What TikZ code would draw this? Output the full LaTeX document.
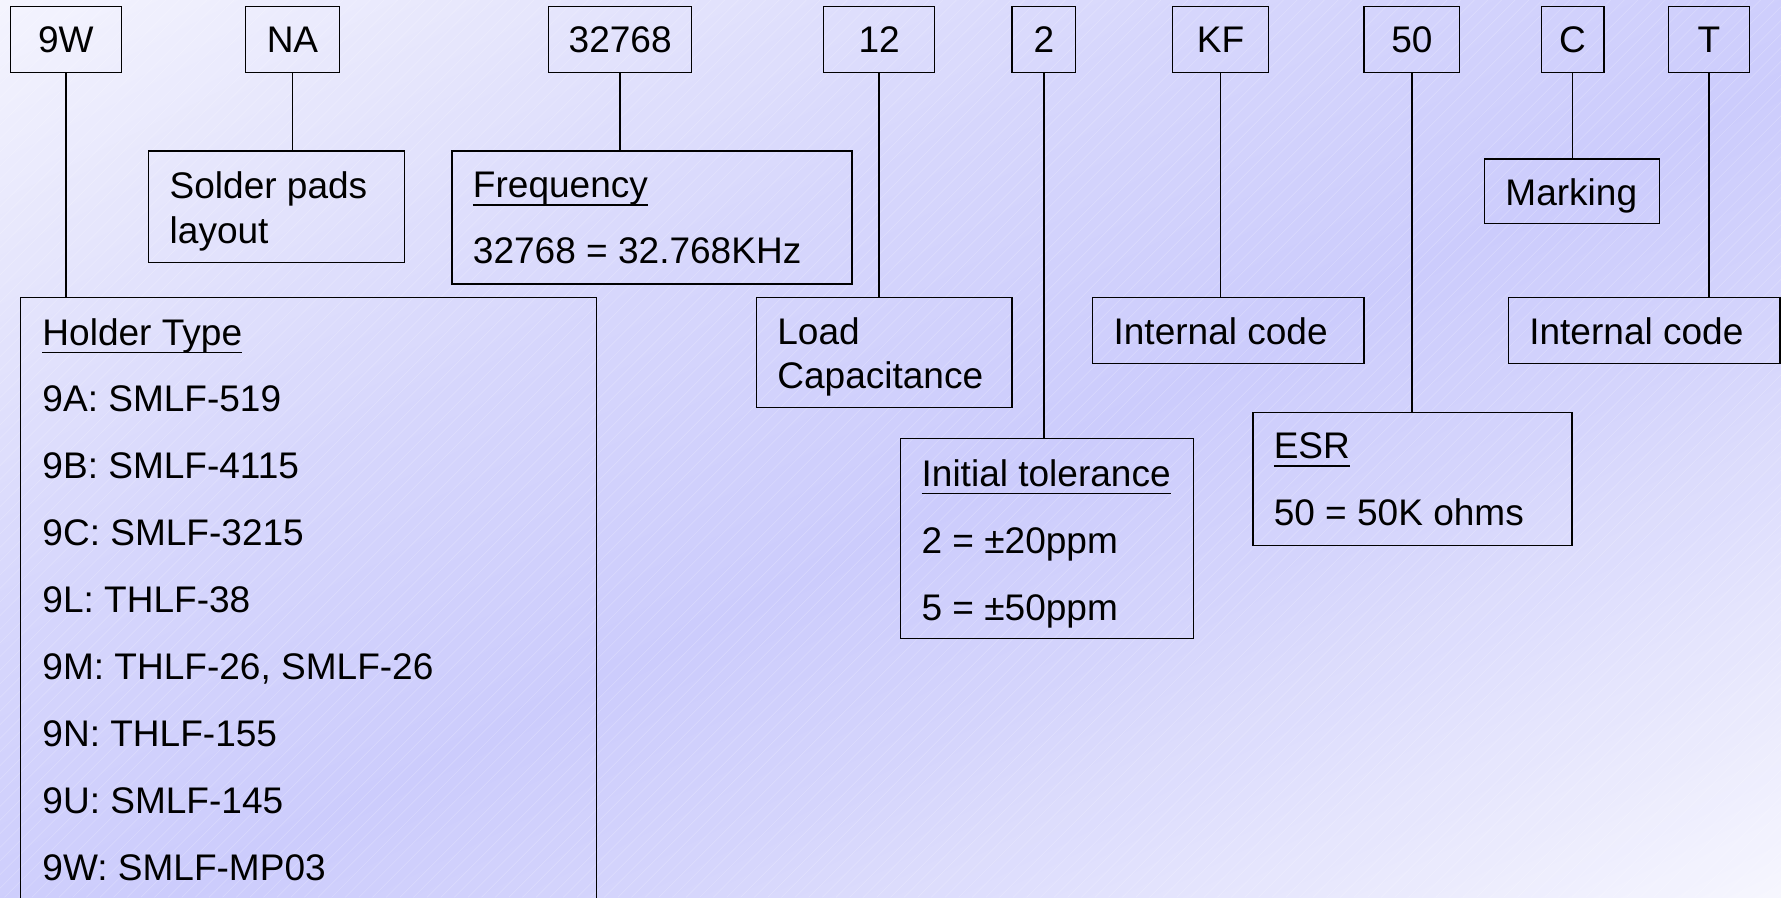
\documentclass[tikz,border=0pt]{standalone}
\usepackage{fontspec}
\setmainfont{Liberation Sans}
\usetikzlibrary{fit}
\definecolor{g0}{RGB}{244,244,254}
\definecolor{g1}{RGB}{230,230,252}
\definecolor{g2}{RGB}{214,214,252}
\definecolor{g3}{RGB}{204,204,252}
\definecolor{g4}{RGB}{212,212,252}
\definecolor{g5}{RGB}{230,230,253}
\definecolor{g6}{RGB}{246,246,254}
\newcommand{\lblfont}{\fontsize{16.3pt}{19.5pt}\selectfont}
\newcommand{\ulx}[1]{\setbox0\hbox{#1}\rlap{\rule[-0.22em]{\wd0}{0.045em}}\box0}
\newcommand{\bgseg}[4]{%
  \foreach \i in {0,...,19}{%
    \pgfmathsetmacro{\ta}{#1+(#2-#1)*\i/20}%
    \pgfmathsetmacro{\tb}{#1+(#2-#1)*(\i+1.4)/20}%
    \pgfmathsetmacro{\pc}{100-(\i+0.5)*5}%
    \pgfmathsetmacro{\xa}{2*\ta*1568-3136}%
    \pgfmathsetmacro{\xb}{2*\ta*1568+3136}%
    \pgfmathsetmacro{\xc}{2*\tb*1568+3136}%
    \pgfmathsetmacro{\xd}{2*\tb*1568-3136}%
    \fill[fill=#3!\pc!#4] (\xa,1580) -- (\xb,-1580) -- (\xc,-1580) -- (\xd,1580) -- cycle;
  }}
\begin{document}
\begin{tikzpicture}[x=0.5pt,y=-0.5pt,
  box/.style={draw=black, line width=0.6pt, inner sep=0pt, font=\lblfont},
  tbox/.style={box, minimum height=29pt},
  txt/.style={anchor=base west, inner sep=0pt, font=\lblfont},
  conn/.style={draw=black, line width=0.6pt}]
\useasboundingbox (0,0) rectangle (1568,790);
\clip (0,0) rectangle (1568,790);
\bgseg{0}{0.15}{g0}{g1}
\bgseg{0.15}{0.35}{g1}{g2}
\bgseg{0.35}{0.55}{g2}{g3}
\bgseg{0.55}{0.67}{g3}{g4}
\bgseg{0.67}{0.85}{g4}{g5}
\bgseg{0.85}{1.0}{g5}{g6}
\foreach \a in {-800,-788,...,1568} \draw[white, opacity=0.2, line width=0.3pt] (\a,790) -- (\a+790,0);

% top code boxes
\node[tbox, minimum width=49pt] (w9) at (58,35) {9W};
\node[tbox, minimum width=41.5pt] (na) at (257.5,35) {NA};
\node[tbox, minimum width=63pt] (fq) at (546,35) {32768};
\node[tbox, minimum width=49pt] (lc) at (774,35) {12};
\node[tbox, minimum width=28pt] (tl) at (919,35) {2};
\node[tbox, minimum width=42.5pt] (kf) at (1074.5,35) {KF};
\node[tbox, minimum width=42pt] (es) at (1243,35) {50};
\node[tbox, minimum width=27.5pt] (cc) at (1384.5,35) {C};
\node[tbox, minimum width=35.5pt] (tt) at (1504.5,35) {T};

% description boxes
\node[box, fit={(131,133) (356,231)}] (solder) {};
\node[box, fit={(398,133) (750,250)}] (freq) {};
\node[box, fit={(18,262) (525,830)}] (holder) {};
\node[box, fit={(666,262) (891,359)}] (load) {};
\node[box, fit={(793,386) (1051,562)}] (init) {};
\node[box, fit={(962,262) (1201,320)}] (ica) {};
\node[box, fit={(1103,363) (1384,480)}] (esr) {};
\node[box, fit={(1307,140) (1461,197)}] (mark) {};
\node[box, fit={(1328,262) (1567,320)}] (icb) {};

% texts
\node[txt] (s1) at (149,175) {Solder pads};
\node[txt] (s2) at (149,214) {layout};
\node[txt] (f1) at (416,174) {\ulx{Frequency}};
\node[txt] (f2) at (416,232) {32768 = 32.768KHz};
\node[txt] (h0) at (37,304) {\ulx{Holder Type}};
\node[txt] (h1) at (37,362) {9A: SMLF-519};
\node[txt] (h2) at (37,421) {9B: SMLF-4115};
\node[txt] (h3) at (37,480) {9C: SMLF-3215};
\node[txt] (h4) at (37,539) {9L: THLF-38};
\node[txt] (h5) at (37,598) {9M: THLF-26, SMLF-26};
\node[txt] (h6) at (37,657) {9N: THLF-155};
\node[txt] (h7) at (37,716) {9U: SMLF-145};
\node[txt] (h8) at (37,775) {9W: SMLF-MP03};
\node[txt] (l1) at (684,303) {Load};
\node[txt] (l2) at (684,342) {Capacitance};
\node[txt] (i1) at (811,428) {\ulx{Initial tolerance}};
\node[txt] (i2) at (811,487) {2 = ±20ppm};
\node[txt] (i3) at (811,546) {5 = ±50ppm};
\node[txt] (ka) at (980,303) {Internal code};
\node[txt] (e1) at (1121,404) {\ulx{ESR}};
\node[txt] (e2) at (1121,463) {50 = 50K ohms};
\node[txt] (m1) at (1325,181) {Marking};
\node[txt] (kb) at (1346,303) {Internal code};

% connectors
\draw[conn] (w9.south) -- (w9.south |- holder.north);
\draw[conn] (na.south) -- (na.south |- solder.north);
\draw[conn] (fq.south) -- (fq.south |- freq.north);
\draw[conn] (lc.south) -- (lc.south |- load.north);
\draw[conn] (tl.south) -- (tl.south |- init.north);
\draw[conn] (kf.south) -- (kf.south |- ica.north);
\draw[conn] (es.south) -- (es.south |- esr.north);
\draw[conn] (cc.south) -- (cc.south |- mark.north);
\draw[conn] (tt.south) -- (tt.south |- icb.north);
\end{tikzpicture}
\end{document}
